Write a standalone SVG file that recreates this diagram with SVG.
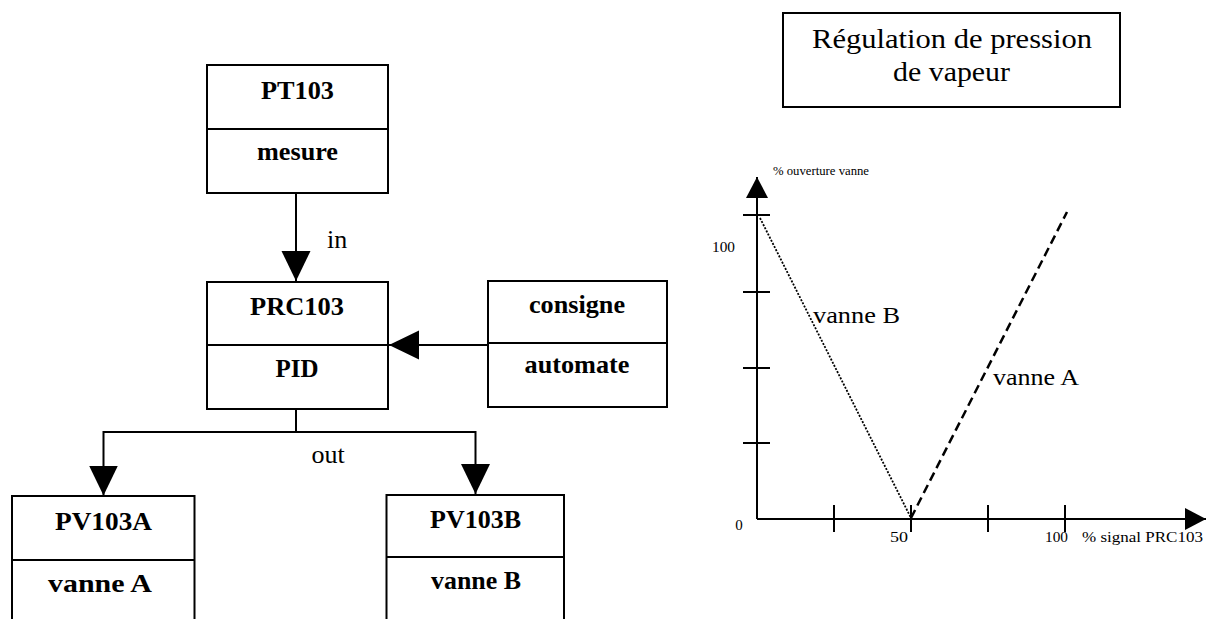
<svg xmlns="http://www.w3.org/2000/svg" width="1206" height="619" viewBox="0 0 1206 619">
<style>
.box{fill:#fff;stroke:#000;stroke-width:2}
.div{stroke:#000;stroke-width:2}
.lb{font-family:"Liberation Serif","Times New Roman",serif;font-weight:bold;font-size:26px;text-anchor:middle;fill:#000}
.tx{font-family:"Liberation Serif","Times New Roman",serif;fill:#000}
.conn{fill:none;stroke:#000;stroke-width:2}
.ax{fill:none;stroke:#000;stroke-width:2}
.tick{stroke:#000;stroke-width:2}
</style>
<defs>
<marker id="ah" markerUnits="userSpaceOnUse" markerWidth="30" markerHeight="30" refX="30" refY="14.5" orient="auto">
<path d="M0,0 L30,14.5 L0,29 z" fill="#000"/>
</marker>
<marker id="axh" markerUnits="userSpaceOnUse" markerWidth="21" markerHeight="22" refX="21" refY="11" orient="auto">
<path d="M0,0 L21,11 L0,22 z" fill="#000"/>
</marker>
</defs>
<rect width="1206" height="619" fill="#fff"/>

<g id="connectors">
<path class="conn" d="M296,193 V281" marker-end="url(#ah)"/>
<path class="conn" d="M488,345 H389" marker-end="url(#ah)"/>
<path class="conn" d="M296,409 V432 H103.5 V495.5" marker-end="url(#ah)"/>
<path class="conn" d="M296,432 H475.5 V494" marker-end="url(#ah)"/>
<text class="tx" x="327" y="248" font-size="26">in</text>
<text class="tx" x="328" y="463" font-size="26" text-anchor="middle">out</text>
</g>

<g id="PT103">
<rect class="box" x="207" y="65" width="181" height="128"/>
<line class="div" x1="207" y1="129" x2="388" y2="129"/>
<text class="lb" x="297.5" y="99" textLength="73" lengthAdjust="spacingAndGlyphs">PT103</text>
<text class="lb" x="297.5" y="160" textLength="81" lengthAdjust="spacingAndGlyphs">mesure</text>
</g>

<g id="PRC103">
<rect class="box" x="207" y="282" width="181" height="127"/>
<line class="div" x1="207" y1="345" x2="388" y2="345"/>
<text class="lb" x="297" y="315" textLength="94" lengthAdjust="spacingAndGlyphs">PRC103</text>
<text class="lb" x="297" y="377" textLength="43" lengthAdjust="spacingAndGlyphs">PID</text>
</g>

<g id="consigne">
<rect class="box" x="488" y="281" width="179" height="126"/>
<line class="div" x1="488" y1="343" x2="667" y2="343"/>
<text class="lb" x="577" y="313" textLength="96" lengthAdjust="spacingAndGlyphs">consigne</text>
<text class="lb" x="577" y="373" textLength="105" lengthAdjust="spacingAndGlyphs">automate</text>
</g>

<g id="PV103A">
<rect class="box" x="12" y="496" width="182.5" height="140"/>
<line class="div" x1="12" y1="560" x2="194.5" y2="560"/>
<text class="lb" x="103.5" y="530" textLength="97" lengthAdjust="spacingAndGlyphs">PV103A</text>
<text class="lb" x="100" y="592" textLength="104" lengthAdjust="spacingAndGlyphs">vanne A</text>
</g>

<g id="PV103B">
<rect class="box" x="386.5" y="495" width="177.5" height="140"/>
<line class="div" x1="386.5" y1="557" x2="564" y2="557"/>
<text class="lb" x="475.5" y="528" textLength="91" lengthAdjust="spacingAndGlyphs">PV103B</text>
<text class="lb" x="476" y="589" textLength="90" lengthAdjust="spacingAndGlyphs">vanne B</text>
</g>

<g id="title">
<rect class="box" x="783" y="13" width="337" height="94"/>
<text class="tx" x="952" y="48" font-size="28" text-anchor="middle" textLength="280" lengthAdjust="spacingAndGlyphs">Régulation de pression</text>
<text class="tx" x="951.5" y="81" font-size="28" text-anchor="middle" textLength="117" lengthAdjust="spacingAndGlyphs">de vapeur</text>
</g>

<g id="graph">
<path class="ax" d="M757,519 V177" marker-end="url(#axh)"/>
<path class="ax" d="M757,519 H1206" marker-end="url(#axh)"/>
<line class="tick" x1="743" y1="215" x2="770" y2="215"/>
<line class="tick" x1="743" y1="292" x2="770" y2="292"/>
<line class="tick" x1="743" y1="368" x2="770" y2="368"/>
<line class="tick" x1="743" y1="443" x2="770" y2="443"/>
<line class="tick" x1="834" y1="505" x2="834" y2="532"/>
<line class="tick" x1="911" y1="505" x2="911" y2="532"/>
<line class="tick" x1="988" y1="505" x2="988" y2="532"/>
<line class="tick" x1="1065" y1="505" x2="1065" y2="532"/>
<path d="M760,218 L911,518" fill="none" stroke="#000" stroke-width="1.8" stroke-dasharray="2,1.5"/>
<path d="M911,518 L1067,212" fill="none" stroke="#000" stroke-width="2.5" stroke-dasharray="9,5"/>
<text class="tx" x="773" y="175" font-size="12" textLength="96" lengthAdjust="spacingAndGlyphs">% ouverture vanne</text>
<text class="tx" x="723.5" y="252" font-size="15" text-anchor="middle" textLength="23" lengthAdjust="spacingAndGlyphs">100</text>
<text class="tx" x="739" y="530" font-size="15" text-anchor="middle">0</text>
<text class="tx" x="899" y="542" font-size="15" text-anchor="middle" textLength="18" lengthAdjust="spacingAndGlyphs">50</text>
<text class="tx" x="1056.5" y="542" font-size="15" text-anchor="middle" textLength="23" lengthAdjust="spacingAndGlyphs">100</text>
<text class="tx" x="1082" y="542" font-size="15" textLength="121" lengthAdjust="spacingAndGlyphs">% signal PRC103</text>
<text class="tx" x="813" y="323" font-size="24" textLength="87" lengthAdjust="spacingAndGlyphs">vanne B</text>
<text class="tx" x="993" y="385" font-size="24" textLength="86" lengthAdjust="spacingAndGlyphs">vanne A</text>
</g>
</svg>
